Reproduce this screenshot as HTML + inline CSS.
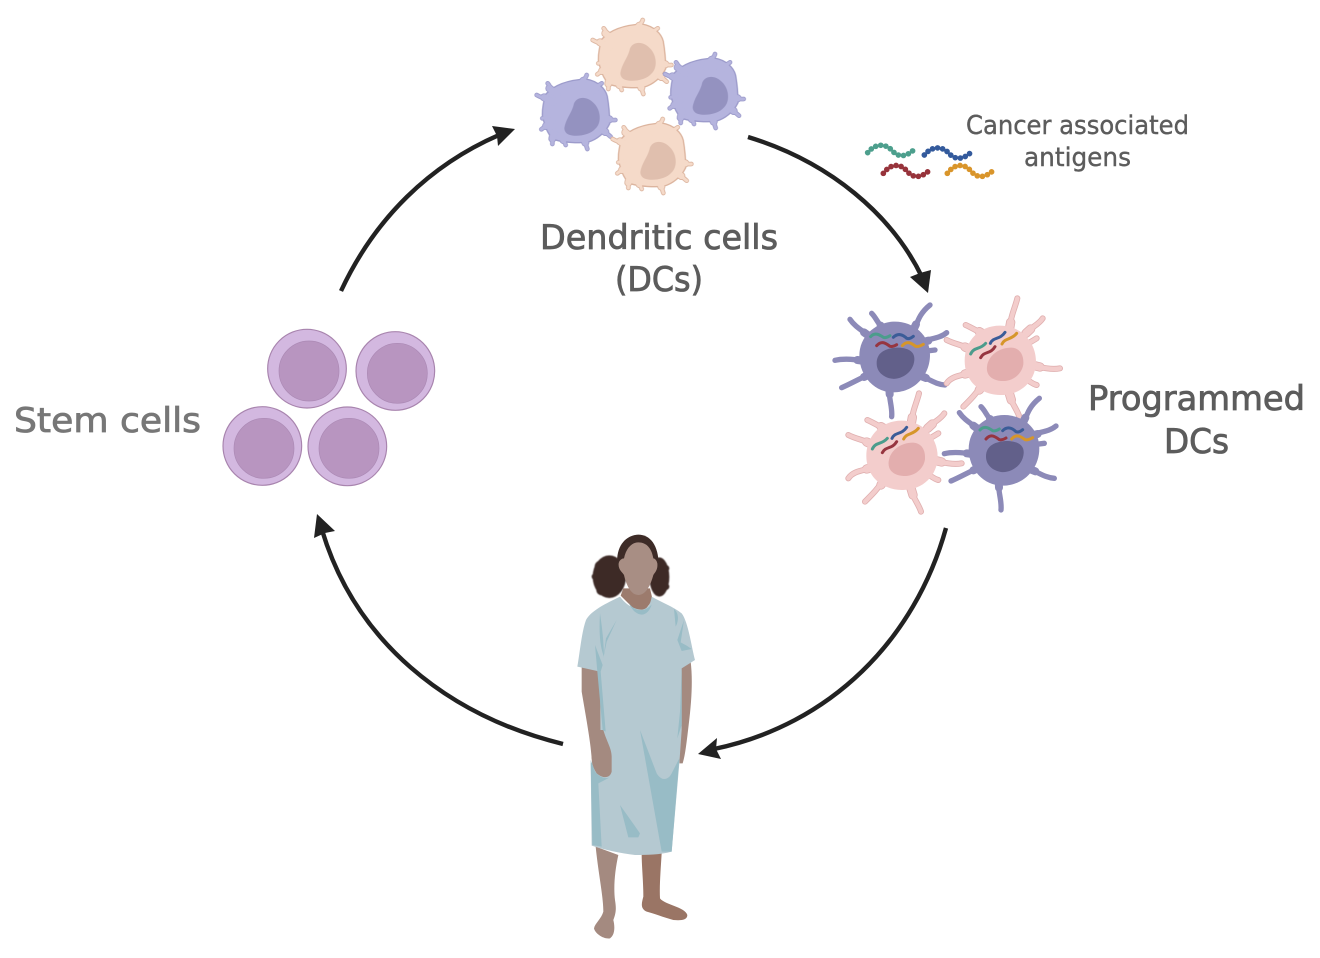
<!DOCTYPE html>
<html><head><meta charset="utf-8"><style>
html,body{margin:0;padding:0;background:#fff;width:1320px;height:958px;overflow:hidden}
svg{display:block}
text{font-family:"DejaVu Sans","Liberation Sans",sans-serif;fill:#5c5c5c;stroke:#5c5c5c;stroke-width:.8px}
.bead{fill:none;stroke-linecap:round}
</style></head><body>
<svg width="1320" height="958" viewBox="0 0 1320 958" xmlns="http://www.w3.org/2000/svg">
<defs>
<filter id="s" x="-5%" y="-5%" width="110%" height="110%"><feGaussianBlur stdDeviation="1.1"/></filter>
<filter id="h" x="-10%" y="-10%" width="120%" height="120%"><feGaussianBlur stdDeviation="1.6"/></filter>
<path id="dcb" d="M250,105 C280,72 330,64 365,62 C400,68 420,90 425,110 C430,140 432,170 432,190 C420,215 395,235 370,242 C340,245 300,242 275,235 C255,225 245,190 240,165 C240,140 245,120 250,105 Z"/>
<path id="dcs1" d="M218,105 C230,112 245,116 258,124 M251,70 C258,78 260,88 272,98 M368,45 C365,58 352,62 345,78 M413,70 C405,76 398,78 388,90 M454,180 C442,182 432,176 418,172 M440,230 C430,222 420,212 405,202 M370,267 C366,255 364,245 358,232 M305,255 C302,245 298,240 292,228 M265,252 C265,240 266,232 268,222 M232,208 C240,202 248,196 258,188 M235,175 L255,170"/>
<path id="dcs2" d="M240,112 L268,128 M256,85 L280,105 M358,62 L340,85 M400,82 L380,98 M436,178 L410,172 M424,216 L400,198 M364,248 L356,225 M298,240 L290,222 M265,236 L270,215 M246,198 L265,182"/>
<path id="dcn" d="M303,195 C310,170 325,155 330,130 C340,108 370,108 390,130 C412,152 412,190 395,205 C375,230 320,232 308,220 C300,212 300,205 303,195 Z"/>
<g id="dcshape" stroke-linecap="round" stroke-linejoin="round" fill="none">
<use href="#dcs1" stroke-width="14"/><use href="#dcs2" stroke-width="24"/>
</g>
<g id="peach">
<use href="#dcb" fill="#f5dac9" stroke="#dcb49e" stroke-width="14"/>
<use href="#dcshape" stroke="#dcb49e"/>
<use href="#dcb" fill="#f5dac9" stroke="#f5dac9" stroke-width="6"/>
<g stroke="#f5dac9" fill="none" stroke-linecap="round"><use href="#dcs1" stroke-width="9"/><use href="#dcs2" stroke-width="19"/></g>
<use href="#dcn" fill="#e0bfae"/>
</g>
<g id="lav">
<use href="#dcb" fill="#b5b4de" stroke="#9c9bcb" stroke-width="14"/>
<use href="#dcshape" stroke="#9c9bcb"/>
<use href="#dcb" fill="#b5b4de" stroke="#b5b4de" stroke-width="6"/>
<g stroke="#b5b4de" fill="none" stroke-linecap="round"><use href="#dcs1" stroke-width="9"/><use href="#dcs2" stroke-width="19"/></g>
<use href="#dcn" fill="#9492c0"/>
</g>

<g id="bluecell">
<g fill="none" stroke-linecap="round" stroke="#8c8ab8" stroke-width="16">
<path d="M330,60 C305,80 295,100 285,130"/>
<path d="M90,103 C105,125 125,135 150,155"/>
<path d="M155,85 C170,100 172,115 190,130"/>
<path d="M380,143 C360,160 335,160 305,170"/>
<path d="M45,226 C70,220 100,222 135,228"/>
<path d="M65,308 C95,295 120,280 155,265"/>
<path d="M215,395 C218,365 205,340 208,305"/>
<path d="M375,300 C345,298 325,280 295,270"/>
<path d="M345,195 L305,200"/>
</g>
<g fill="none" stroke-linecap="round" stroke="#8c8ab8" stroke-width="24">
<path d="M288,118 L280,135"/><path d="M132,142 L150,155"/><path d="M182,122 L190,135"/><path d="M325,167 L305,172"/>
<path d="M112,225 L135,228"/><path d="M132,276 L155,265"/><path d="M209,328 L208,305"/><path d="M318,279 L295,270"/>
</g>
<path d="M225,110 C280,110 330,150 330,210 C330,272 282,322 220,322 C162,322 118,272 118,212 C118,152 168,110 225,110 Z" fill="#8c8ab8"/>
<path d="M170,235 C170,200 200,190 230,188 C265,188 285,200 283,225 C280,265 240,285 215,281 C190,277 170,260 170,235 Z" fill="#62608a"/>
<g class="bead" stroke-width="9">
<path stroke="#4c9c8c" d="M152,155 C165,140 180,150 190,157 C198,160 205,155 210,152"/>
<path stroke="#3a5c98" d="M220,157 C235,142 250,150 260,160 C268,163 275,158 280,154"/>
<path stroke="#96343f" d="M170,182 C185,165 198,175 210,184 C218,186 225,182 230,179"/>
<path stroke="#d6962c" d="M247,182 C262,165 275,175 287,184 C295,186 303,182 310,178"/>
</g>
</g>

<path id="pa" d="M592,40 C585,70 570,95 570,135 M668,100 C655,120 635,125 618,145 M437,120 C455,128 475,140 495,150 M380,165 C405,178 430,180 455,195 M650,160 L620,178 M720,250 C695,255 665,248 635,240 M380,295 C395,272 425,272 455,262 M650,300 C640,298 630,290 615,280 M430,365 C450,345 470,325 490,295 M598,395 C590,370 570,350 565,315"/>
<path id="pb" d="M572,112 L568,135 M632,132 L618,145 M478,140 L495,150 M435,186 L455,195 M660,246 L635,240 M435,267 L455,262 M478,315 L490,295 M574,345 L565,315"/>
<g id="pinkcell">
<g fill="none" stroke-linecap="round" stroke="#e0b0b0"><use href="#pa" stroke-width="18"/><use href="#pb" stroke-width="28"/></g>
<g fill="none" stroke-linecap="round" stroke="#f3cdcc"><use href="#pa" stroke-width="13"/><use href="#pb" stroke-width="23"/></g>
<path d="M540,122 C602,122 648,170 648,230 C648,287 602,332 540,330 C478,328 434,287 434,228 C434,168 478,122 540,122 Z" fill="#f3cdcc"/>
<path d="M501,245 C505,210 540,187 575,188 C600,190 612,210 610,238 C605,270 575,290 545,288 C515,286 498,270 501,245 Z" fill="#e3aeae"/>
<g class="bead" stroke-width="9">
<path stroke="#4c9c8c" d="M452,207 C462,185 480,195 497,175"/>
<path stroke="#96343f" d="M482,218 C492,198 512,208 525,185"/>
<path stroke="#3a5c98" d="M511,175 C520,155 540,165 555,142"/>
<path stroke="#d6962c" d="M546,177 C555,158 575,165 590,145"/>
</g>
</g>
</defs>

<!-- arrows -->
<g fill="none" stroke="#222" stroke-width="4.4">
<path d="M748,137 C830,162 892,215 922,277"/>
<path d="M946,528 C915,640 830,725 714,749"/>
<path d="M563,744 C445,715 355,640 322,530"/>
<path d="M341,291 C375,218 430,165 499,135"/>
</g>
<g fill="#222">
<polygon points="928,293 910,277 920,273 931,270"/>
<polygon points="698,754 717,738 716,749 721,759"/>
<polygon points="317,514 314,538 325,533 335,531"/>
<polygon points="515,129 492,126 497,136 498,146"/>
</g>

<!-- dendritic cells -->
<g transform="translate(520,5) scale(.33333)" filter="url(#s)">
<use href="#peach"/>
<use href="#lav" x="-168" y="165"/>
<use href="#lav" x="217" y="102"/>
<use href="#peach" x="60" y="297"/>
</g>

<!-- antigens -->
<g transform="translate(855,130) scale(.33333)" class="bead" fill="none" stroke-width="17" stroke-dasharray="0 15.5">
<path stroke="#4d9f8d" d="M38,68 C60,40 90,40 110,60 C130,85 155,80 178,58"/>
<path stroke="#335a9c" d="M208,75 C230,48 260,48 280,68 C300,92 325,88 347,68"/>
<path stroke="#97333b" d="M85,130 C107,100 135,100 155,122 C175,148 200,142 222,122"/>
<path stroke="#d9952b" d="M277,130 C299,100 327,100 347,122 C367,148 392,142 414,122"/>
</g>

<!-- programmed DCs -->
<g transform="translate(820,285) scale(.33333)" filter="url(#s)">
<use href="#bluecell"/>
<use href="#pinkcell"/>
<use href="#pinkcell" x="-295" y="285"/>
<use href="#bluecell" x="328" y="280"/>
</g>

<!-- stem cells -->
<g transform="translate(210,320) scale(.33333)">
<g fill="#d3b8e0" stroke="#a884ae" stroke-width="3.5">
<circle cx="291" cy="146" r="118"/><circle cx="556" cy="153" r="118"/><circle cx="157" cy="378" r="118"/><circle cx="412" cy="379" r="118"/>
</g>
<g fill="#b895c0" stroke="#ab89b4" stroke-width="2">
<circle cx="297" cy="153" r="90"/><circle cx="562" cy="160" r="90"/><circle cx="162" cy="385" r="90"/><circle cx="417" cy="385" r="90"/>
</g>
</g>

<!-- patient -->
<g transform="translate(560,525) scale(.33333)">
<!-- hair -->
<g fill="#3d2b27" filter="url(#h)">
<ellipse cx="148" cy="155" rx="50" ry="64"/>
<ellipse cx="298" cy="156" rx="30" ry="59"/>
<circle cx="122" cy="125" r="18"/><circle cx="105" cy="155" r="10"/><circle cx="125" cy="195" r="16"/><circle cx="318" cy="130" r="10"/><circle cx="318" cy="185" r="10"/>
</g>
<circle cx="190" cy="120" r="22" fill="#3d2b27"/>
<circle cx="280" cy="120" r="22" fill="#3d2b27"/>
<path d="M172,125 C165,55 205,29 235,29 C270,29 298,60 296,130 Z" fill="#3d2b27"/>
<!-- neck -->
<path d="M190,190 L270,190 L278,225 L255,255 L225,255 L182,212 Z" fill="#9c7b6d"/>
<!-- face -->
<path d="M176,115 C174,135 188,142 192,150 C200,185 215,210 235,210 C258,210 272,180 280,150 C285,142 294,135 292,115 C290,105 284,100 280,100 C275,70 260,52 235,52 C215,52 198,70 192,100 C186,100 178,105 176,115 Z" fill="#a88e84"/>
<!-- arms -->
<path d="M65,425 L122,430 L130,615 L155,695 L155,740 L140,760 L110,745 L95,700 C92,650 75,560 65,500 Z" fill="#a48a80"/>
<path d="M362,425 L392,410 C398,460 396,520 386,600 C380,650 376,690 368,715 L358,715 Z" fill="#a48a80"/>
<!-- legs -->
<path d="M107,965 L175,990 C165,1035 160,1085 165,1125 C168,1145 170,1160 160,1185 C165,1205 165,1230 150,1240 C130,1243 105,1225 102,1210 C105,1195 125,1180 130,1160 C130,1115 115,1045 107,965 Z" fill="#a48a80"/>
<path d="M245,985 L305,985 C302,1035 298,1085 300,1120 C315,1140 375,1145 382,1170 C382,1185 365,1187 340,1185 C310,1177 280,1165 260,1160 C240,1150 245,1135 250,1115 C250,1065 245,1025 245,985 Z" fill="#9a7565"/>
<!-- gown -->
<path d="M180,215 C195,235 215,252 245,254 C265,252 272,235 275,215 C300,230 340,245 365,265 C385,290 395,370 405,405 L365,430 L365,615 L358,715 L335,980 C300,990 260,990 225,990 C180,985 135,975 95,962 L92,715 L122,700 L120,440 L52,425 C60,380 65,320 78,285 C95,255 140,235 180,215 Z" fill="#b5c9d1"/>
<!-- hand over gown -->
<path d="M92,615 L130,615 C140,650 155,670 155,695 L155,740 C150,760 130,762 110,745 C100,730 95,715 95,700 Z" fill="#a48a80"/>
<!-- shadows -->
<g fill="#98bcc6">
<path d="M240,615 L265,680 L290,745 C305,770 325,765 335,745 L358,700 L335,980 L305,980 Z"/>
<path d="M92,705 L105,740 C120,758 135,762 148,758 L115,775 L125,965 L97,960 Z"/>
<path d="M180,840 L240,925 L235,937 L205,937 Z"/>
<path d="M205,232 C225,262 255,262 275,238 C265,275 230,285 205,232 Z"/>
<path d="M342,252 C355,262 358,285 347,305 Z"/>
<path d="M372,285 L352,345 L365,378 L395,372 L380,362 L362,352 Z"/>
<path d="M120,265 C125,300 130,330 132,395 C122,370 116,335 120,265 Z"/>
<path d="M170,285 L138,340 L130,400 L140,350 Z"/>
<path d="M105,360 L128,420 L122,440 L137,620 L128,615 L112,440 Z"/>
<path d="M365,430 L360,560 L352,640 L365,600 Z"/>
</g>
</g>

<!-- labels -->
<text x="14" y="432" font-size="34" textLength="187" lengthAdjust="spacingAndGlyphs" style="fill:#777;stroke:#777">Stem cells</text>
<text x="540" y="249" font-size="34" textLength="238" lengthAdjust="spacingAndGlyphs">Dendritic cells</text>
<text x="615" y="291" font-size="34" textLength="88" lengthAdjust="spacingAndGlyphs">(DCs)</text>
<text x="1088" y="410" font-size="34" textLength="217" lengthAdjust="spacingAndGlyphs">Programmed</text>
<text x="1164" y="453" font-size="34" textLength="65" lengthAdjust="spacingAndGlyphs">DCs</text>
<text x="966" y="134" font-size="26" textLength="223" lengthAdjust="spacingAndGlyphs" style="stroke-width:.4px">Cancer associated</text>
<text x="1024" y="166" font-size="26" textLength="107" lengthAdjust="spacingAndGlyphs" style="stroke-width:.4px">antigens</text>
</svg>
</body></html>
